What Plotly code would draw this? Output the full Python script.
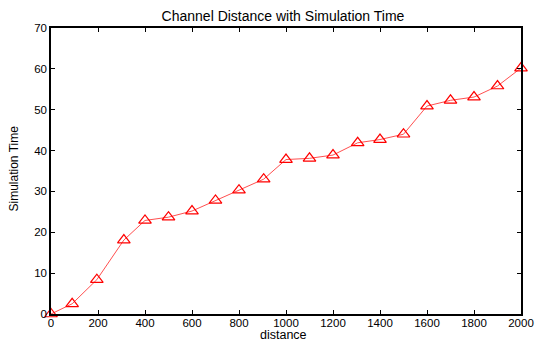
import plotly.graph_objects as go

distance = [0, 90, 195, 310, 400, 500, 600, 700, 800, 905, 1000, 1100, 1200, 1305, 1400, 1500, 1600, 1700, 1800, 1900, 2000]
sim_time = [0, 2.5, 8.4, 18.1, 22.9, 23.7, 25.2, 27.8, 30.3, 33.0, 37.8, 38.1, 38.9, 41.9, 42.7, 44.0, 50.9, 52.3, 53.1, 55.8, 60.2]
x_ticks = [0, 200, 400, 600, 800, 1000, 1200, 1400, 1600, 1800, 2000]
y_ticks = [0, 10, 20, 30, 40, 50, 60, 70]

FONT = "Liberation Sans, Arial, Helvetica"

fig = go.Figure()
fig.add_trace(go.Scatter(
    x=distance, y=sim_time, mode="lines+markers",
    line=dict(color="rgba(255,60,60,0.9)", width=1),
    marker=dict(symbol="triangle-up-open", size=11, color="red", line=dict(width=1.2, color="red")),
    cliponaxis=False, showlegend=False,
))

axis_common = dict(
    showgrid=False, zeroline=False, showline=True, linecolor="black", linewidth=1.5,
    mirror="ticks", ticks="inside", ticklen=4, tickcolor="black", tickwidth=1,
    tickfont=dict(family=FONT, size=11.5, color="black"), automargin=False,
)

fig.update_xaxes(range=[0, 2000], tickvals=x_ticks, ticktext=[str(v) for v in x_ticks],
                 ticklabelstandoff=-3, **axis_common)
fig.update_yaxes(range=[0, 70], tickvals=y_ticks, ticktext=[str(v) for v in y_ticks], **axis_common)

fig.update_layout(
    width=536, height=342,
    margin=dict(l=51, r=15, t=28, b=28),
    paper_bgcolor="white", plot_bgcolor="white",
    title=dict(text="Channel Distance with Simulation Time", x=283 / 536, xanchor="center",
               y=1 - 16 / 342, yanchor="middle",
               font=dict(family=FONT, size=14, color="black")),
    annotations=[
        dict(text="distance", xref="paper", yref="paper", x=0.495, y=-0.073,
             xanchor="center", yanchor="middle", showarrow=False,
             font=dict(family=FONT, size=12.5, color="black")),
        dict(text="Simulation Time", xref="paper", yref="paper", x=-0.078, y=0.51,
             xanchor="center", yanchor="middle", showarrow=False, textangle=-90,
             font=dict(family=FONT, size=12, color="black")),
    ],
)

fig.write_html("out.html")
